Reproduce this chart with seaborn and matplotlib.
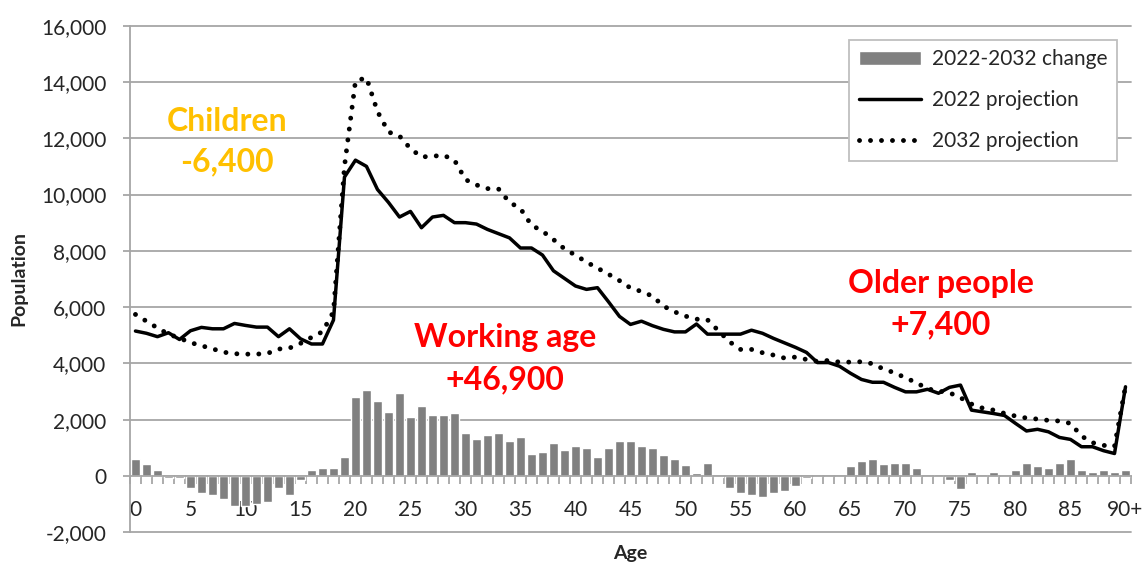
import matplotlib
matplotlib.use("Agg")
import matplotlib.pyplot as plt
from matplotlib.ticker import FixedLocator, FuncFormatter
import numpy as np
import pandas as pd
import seaborn as sns

# population by single year of age
ages = [str(a) for a in range(90)] + ["90+"]

change = [600, 415, 225, -80, -80, -415, -615, -675, -800, -1050,
          -1050, -990, -935, -415, -675, -140, 225, 285, 285, 675,
          2800, 3065, 2675, 2285, 2935, 2095, 2485, 2165, 2165, 2235,
          1515, 1315, 1445, 1515, 1255, 1385, 790, 865, 1185, 925,
          1055, 980, 660, 980, 1255, 1255, 1055, 980, 735, 600,
          400, 95, 475, -20, -415, -615, -675, -745, -615, -545,
          -355, -80, 10, 10, 10, 355, 545, 600, 415, 475,
          475, 285, 0, 85, -140, -475, 155, 85, 155, 0,
          225, 475, 355, 285, 475, 600, 225, 155, 225, 155,
          225]

pop_2022 = [5150, 5070, 4950, 5090, 4850, 5160, 5280, 5230, 5230, 5420,
            5350, 5290, 5290, 4950, 5230, 4875, 4690, 4690, 5540, 10620,
            11220, 11000, 10180, 9720, 9200, 9400, 8820, 9200, 9260, 9000,
            9000, 8950, 8760, 8610, 8460, 8100, 8100, 7850, 7290, 7020,
            6750, 6630, 6690, 6190, 5670, 5385, 5500, 5340, 5210, 5120,
            5120, 5400, 5040, 5040, 5040, 5040, 5180, 5070, 4890, 4730,
            4570, 4390, 4030, 4030, 3900, 3650, 3430, 3330, 3330, 3150,
            2990, 2990, 3080, 2940, 3150, 3230, 2340, 2280, 2220, 2150,
            1870, 1600, 1660, 1570, 1370, 1300, 1040, 1040, 900, 800,
            3170]

pop_2032 = [5740, 5500, 5260, 5040, 4900, 4740, 4630, 4520, 4400, 4345,
            4330, 4330, 4355, 4510, 4545, 4710, 4925, 5125, 5835, 11000,
            14030, 14150, 12950, 12220, 12080, 11630, 11335, 11360, 11395, 11220,
            10530, 10340, 10210, 10200, 9725, 9500, 8910, 8700, 8400, 8070,
            7845, 7600, 7385, 7170, 6940, 6680, 6555, 6390, 6035, 5834,
            5680, 5573, 5550, 5160, 4770, 4497, 4497, 4380, 4296, 4190,
            4225, 4140, 4071, 4106, 4047, 4047, 4060, 3990, 3800, 3668,
            3490, 3313, 3100, 3017, 2958, 2781, 2556, 2414, 2343, 2225,
            2130, 2060, 2024, 1976, 1953, 1870, 1420, 1184, 1089, 1050,
            3195]

tick_labels = [str(a) for a in range(0, 90, 5)] + ["90+"]

groups = [("Children", "-6,400", 8.3, 12270, 10820, "#FFC000"),
          ("Working age", "+46,900", 33.6, 4600, 3070, "#FF0000"),
          ("Older people", "+7,400", 73.2, 6515, 5045, "#FF0000")]

df = pd.DataFrame({"age": ages, "change": change,
                   "p2022": pop_2022, "p2032": pop_2032})
df["pos"] = range(len(df))

sns.set_theme(style="white")
plt.rcParams["font.family"] = ["Lato", "DejaVu Sans"]

grid_col = "#a6a6a6"

fig = plt.figure(figsize=(11.43, 5.63), dpi=100)
ax = fig.add_axes([0.1137, 0.0545, 0.8758, 0.9])

sns.barplot(data=df, x="age", y="change", color="#808080", saturation=1,
            width=0.9, errorbar=None, ax=ax, zorder=2)
sns.lineplot(data=df, x="pos", y="p2022", color="black", lw=2.5, ax=ax,
             zorder=3)
sns.lineplot(data=df, x="pos", y="p2032", color="black", lw=3.5, ax=ax,
             zorder=3, linestyle=(0, (0.01, 2.25)), dash_capstyle="round")

ax.set_xlim(-0.5, 90.5)
ax.set_ylim(-2000, 16000)

# y axis
ax.set_yticks(range(-2000, 16001, 2000))
ax.yaxis.set_major_formatter(FuncFormatter(lambda v, p: f"{int(v):,}"))
ax.grid(axis="y", color=grid_col, lw=1.3)
ax.grid(axis="x", visible=False)
for gl in ax.get_ygridlines():
    gl.set_clip_on(False)
ax.tick_params(axis="y", which="major", length=5, width=1.3, color=grid_col,
               direction="out", pad=12, labelsize=15, left=True)

# x axis sits on zero
for s in ["top", "right"]:
    ax.spines[s].set_visible(False)
ax.spines["left"].set_color(grid_col)
ax.spines["left"].set_linewidth(1.3)
ax.spines["bottom"].set_position(("data", 0))
ax.spines["bottom"].set_color(grid_col)
ax.spines["bottom"].set_linewidth(1.3)
ax.xaxis.set_major_locator(FixedLocator(list(range(0, 91, 5))))
ax.set_xticklabels(tick_labels)
ax.xaxis.set_minor_locator(FixedLocator(list(np.arange(-0.5, 91, 1.0))))
ax.tick_params(axis="x", which="major", length=0, pad=17, labelsize=15,
               bottom=True)
ax.tick_params(axis="x", which="minor", length=6, width=1.3, color=grid_col,
               direction="out", bottom=True)

ax.set_xlabel("Age", fontsize=14, fontweight="bold")
ax.set_ylabel("Population", fontsize=14, fontweight="bold")
ax.xaxis.set_label_coords(0.5, -0.025)
ax.yaxis.set_label_coords(-0.102, 0.5)

for name, total, gx, y1, y2, col in groups:
    ax.text(gx, y1, name, color=col, fontsize=23, fontweight="bold",
            ha="center", va="baseline", zorder=4)
    ax.text(gx, y2, total, color=col, fontsize=23, fontweight="bold",
            ha="center", va="baseline", zorder=4)

handles = [ax.containers[0], ax.lines[-2], ax.lines[-1]]
labels = ["2022-2032 change", "2022 projection", "2032 projection"]
leg = ax.legend(handles, labels, loc="upper right",
                bbox_to_anchor=(0.996, 0.992), fontsize=15, frameon=True,
                fancybox=False, framealpha=1, edgecolor="#bfbfbf",
                handlelength=3.0, labelspacing=1.0, borderpad=0.45,
                handletextpad=0.5)
leg.get_frame().set_linewidth(1.3)

fig.savefig("out.png", dpi=100)
